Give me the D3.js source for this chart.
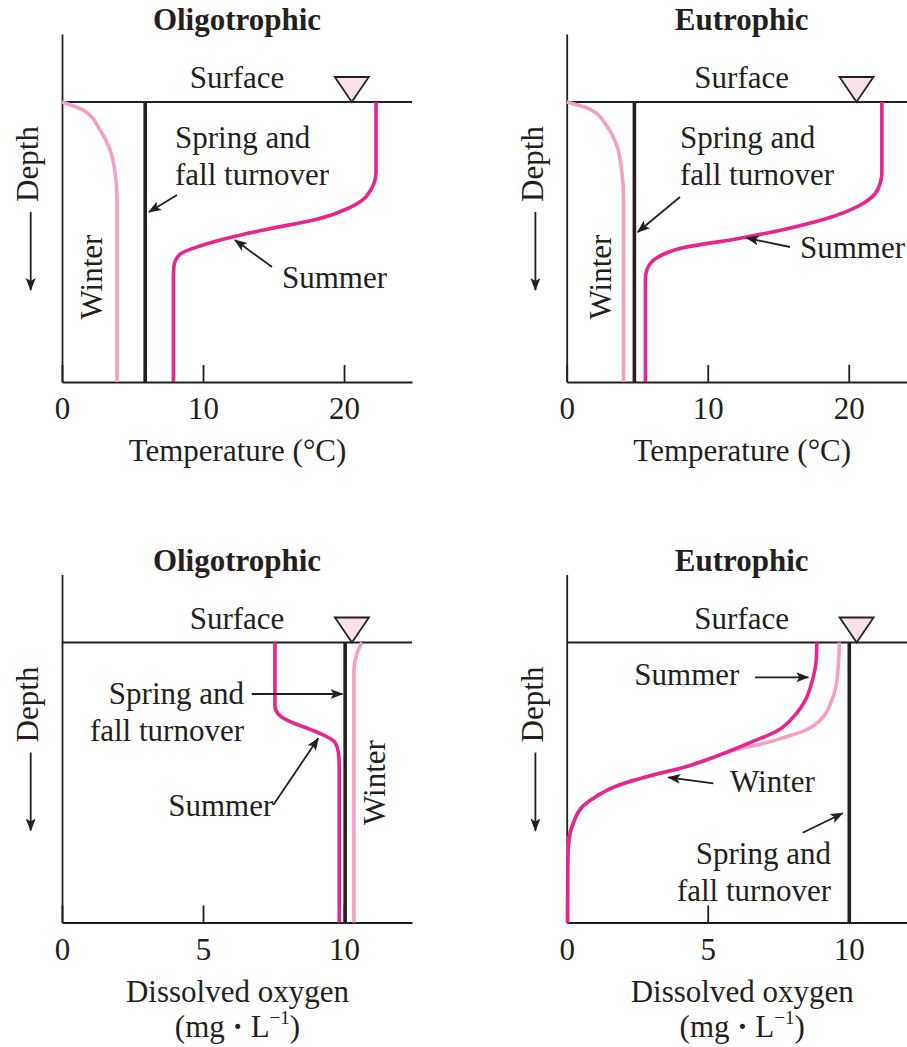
<!DOCTYPE html>
<html>
<head>
<meta charset="utf-8">
<script src="https://cdn.jsdelivr.net/npm/d3@7"></script>
<style>
  body { margin: 0; background: #fff; }
  text { font-family: "Liberation Serif", "Times New Roman", serif; fill: #231f20; }
</style>
</head>
<body>
<div class="chart"></div>
<script>
// profiles are [value, depth] pairs, depth 0 = surface, 100 = bottom
const oligoTempWinter = [[0,0],[1.5,2.9],[2.7,10],[3.4,17],[3.76,25],[3.9,35],[3.9,100]];
const oligoTempTurnover = [[5.9,0],[5.9,100]];
const oligoTempSummer = [[22.27,0],[22.27,25.2],[21.6,33.6],[20.4,37.7],[18.06,41.9],[14.5,45.5],
    [12.15,48.1],[9.79,51.4],[8.37,54.4],[7.94,58.6],[7.9,62.1],[7.9,100]];

const eutroTempWinter = [[0,0],[1.66,2.6],[2.85,8.6],[3.56,15.7],[3.91,25],[4.03,34.5],[4.03,100]];
const eutroTempTurnover = [[4.8,0],[4.8,100]];
const eutroTempSummer = [[22.35,0],[22.35,25.2],[22.06,31.2],[21.1,36],[19.0,40.7],[15.4,45.5],
    [11.9,49],[8.3,52],[6.4,55.6],[5.7,59.8],[5.58,63.3],[5.58,100]];

const oligoDoSummer = [[7.55,0],[7.55,22.6],[7.67,25.6],[8.09,28.3],[8.79,31],[9.33,33.3],
    [9.68,35.7],[9.8,39.3],[9.83,44],[9.83,100]];
const oligoDoTurnover = [[10.04,0],[10.04,100]];
const oligoDoWinter = [[10.63,0],[10.43,4.8],[10.35,10.7],[10.35,100]];

const eutroDoSummer = [[8.87,0],[8.84,7.1],[8.72,13.1],[8.48,20.2],[8.07,26.2],[7.47,31.5],
    [6.52,35.7],[5.34,40.5],[4.15,44.6],[2.97,47.6],[1.78,51.2],[1.07,54.8],[0.59,58.3],
    [0.24,64.3],[0.08,70.2],[0.04,77.4],[0.03,100]];
const eutroDoWinter = [[9.67,0],[9.63,8.3],[9.55,15.5],[9.37,21.4],[9.02,27.4],[8.54,31],
    [7.71,33.9],[6.88,36.3],[6.05,38.1],[5.34,40.5],[4.15,44.6],[2.97,47.6],[1.78,51.2],
    [1.07,54.8],[0.59,58.3],[0.24,64.3],[0.08,70.2],[0.04,77.4],[0.03,100]];
const eutroDoTurnover = [[10.02,0],[10.02,100]];

const tempTicks = [0, 10, 20];
const doTicks = [0, 5, 10];
const tempMax = 24.82, doMax = 12.41;
const tempSurfaceMark = 20.55, doSurfaceMark = 10.28;

const winterColor = "#f4a0c4", summerColor = "#e8258c", ink = "#231f20";
const fs = 31;

const svg = d3.select(".chart").append("svg")
    .attr("width", 907)
    .attr("height", 1047);

const defs = svg.append("defs");
defs.append("marker")
    .attr("id", "arrow")
    .attr("markerUnits", "userSpaceOnUse")
    .attr("markerWidth", 14).attr("markerHeight", 12)
    .attr("refX", 12).attr("refY", 5)
    .attr("orient", "auto")
    .append("path")
    .attr("d", "M0,0 L13,5 L0,10 L3,5 Z")
    .attr("fill", ink);

const panels = [
    { ox: 62, oy: 102, title: "Oligotrophic", max: tempMax, ticks: tempTicks, mark: tempSurfaceMark,
      winter: oligoTempWinter, turnover: oligoTempTurnover, summer: oligoTempSummer,
      xTitle: ["Temperature (°C)"],
      notes: [
        { lines: ["Spring and", "fall turnover"], x: 113, y: 46, anchor: "start", from: [115, 93], to: [87, 110] },
        { lines: ["Summer"], x: 220, y: 186, anchor: "start", from: [210, 165], to: [173, 138] },
        { lines: ["Winter"], x: 40, y: 175, rotate: true }
      ] },
    { ox: 566.7, oy: 102, title: "Eutrophic", max: tempMax, ticks: tempTicks, mark: tempSurfaceMark,
      winter: eutroTempWinter, turnover: eutroTempTurnover, summer: eutroTempSummer,
      xTitle: ["Temperature (°C)"],
      notes: [
        { lines: ["Spring and", "fall turnover"], x: 113.3, y: 46, anchor: "start", from: [113.3, 95], to: [71, 130] },
        { lines: ["Summer"], x: 233.3, y: 156, anchor: "start", from: [223.3, 145], to: [180, 136] },
        { lines: ["Winter"], x: 44, y: 175, rotate: true }
      ] },
    { ox: 62, oy: 642.5, title: "Oligotrophic", max: doMax, ticks: doTicks, mark: doSurfaceMark,
      winter: oligoDoWinter, turnover: oligoDoTurnover, summer: oligoDoSummer,
      xTitle: ["Dissolved oxygen", "unit"],
      notes: [
        { lines: ["Spring and", "fall turnover"], x: 182, y: 61, anchor: "end", from: [189.7, 51.5], to: [280.5, 51.5] },
        { lines: ["Summer"], x: 158.8, y: 173.5, anchor: "middle", from: [211.3, 162.5], to: [256.3, 95.8] },
        { lines: ["Winter"], x: 323, y: 140, rotate: true }
      ] },
    { ox: 566.7, oy: 642.5, title: "Eutrophic", max: doMax, ticks: doTicks, mark: doSurfaceMark,
      winter: eutroDoWinter, turnover: eutroDoTurnover, summer: eutroDoSummer,
      xTitle: ["Dissolved oxygen", "unit"],
      notes: [
        { lines: ["Summer"], x: 67.6, y: 42.5, anchor: "start", from: [188.3, 34.8], to: [241.6, 34.8] },
        { lines: ["Winter"], x: 163.3, y: 149.2, anchor: "start", from: [146.6, 140.8], to: [101.6, 134.8] },
        { lines: ["Spring and", "fall turnover"], x: 264.3, y: 221, anchor: "end", from: [236, 190.2], to: [276, 170.8] }
      ] }
];

const plotW = 350, plotH = 280, topExtra = 68;

panels.forEach(p => {
    const g = svg.append("g").attr("transform", `translate(${p.ox},${p.oy})`);

    const x = d3.scaleLinear().domain([0, p.max]).range([0, plotW]);
    const y = d3.scaleLinear().domain([0, 100]).range([0, plotH]);

    const line = d3.line()
        .x(d => x(d[0]))
        .y(d => y(d[1]))
        .curve(d3.curveMonotoneY);

    // x axis with inward ticks
    g.append("g")
        .attr("transform", `translate(0,${plotH})`)
        .call(d3.axisBottom(x).tickValues(p.ticks).tickSizeInner(-17).tickSizeOuter(0).tickPadding(15))
        .call(a => a.select(".domain").attr("stroke", ink).attr("stroke-width", 1.8))
        .call(a => a.selectAll(".tick line").attr("stroke", ink).attr("stroke-width", 1.8))
        .call(a => a.selectAll(".tick text")
            .attr("font-family", "Liberation Serif").attr("font-size", fs).attr("fill", ink));

    // depth axis, extends above the surface
    const yAxisScale = y.copy().domain([y.invert(-topExtra), 100]).range([-topExtra, plotH]);
    g.append("g")
        .call(d3.axisLeft(yAxisScale).ticks(0).tickSizeOuter(0))
        .call(a => a.select(".domain").attr("stroke", ink).attr("stroke-width", 1.8));

    // surface line
    g.append("line")
        .attr("x1", 0).attr("x2", x(p.max))
        .attr("y1", y(0)).attr("y2", y(0))
        .attr("stroke", ink).attr("stroke-width", 1.8);

    g.append("path").datum(p.winter)
        .attr("fill", "none").attr("stroke", winterColor).attr("stroke-width", 3.6).attr("d", line);
    g.append("path").datum(p.turnover)
        .attr("fill", "none").attr("stroke", ink).attr("stroke-width", 3.6).attr("d", line);
    g.append("path").datum(p.summer)
        .attr("fill", "none").attr("stroke", summerColor).attr("stroke-width", 3.6).attr("d", line);

    // surface triangle
    const mx = x(p.mark);
    g.append("path")
        .attr("d", `M${mx - 17},${y(0) - 25} L${mx + 17},${y(0) - 25} L${mx},${y(0)} Z`)
        .attr("fill", "#f9e1ea").attr("stroke", ink).attr("stroke-width", 1.8)
        .attr("stroke-linejoin", "miter");

    g.append("text")
        .attr("x", 175).attr("y", -72)
        .attr("text-anchor", "middle")
        .attr("font-size", fs).attr("font-weight", "bold")
        .text(p.title);

    g.append("text")
        .attr("x", 175).attr("y", -14)
        .attr("text-anchor", "middle")
        .attr("font-size", fs)
        .text("Surface");

    // depth label and arrow
    g.append("text")
        .attr("transform", "translate(-24,62) rotate(-90)")
        .attr("text-anchor", "middle")
        .attr("font-size", fs)
        .text("Depth");
    g.append("line")
        .attr("x1", -31.3).attr("x2", -31.3)
        .attr("y1", 110).attr("y2", 188)
        .attr("stroke", ink).attr("stroke-width", 1.8)
        .attr("marker-end", "url(#arrow)");

    // x axis title
    const xt = g.append("text")
        .attr("x", 175.5).attr("y", 359)
        .attr("text-anchor", "middle")
        .attr("font-size", fs)
        .text(p.xTitle[0]);
    if (p.xTitle.length > 1) {
        const u = g.append("text")
            .attr("x", 175.5).attr("y", 394)
            .attr("text-anchor", "middle")
            .attr("font-size", fs);
        u.append("tspan").text("(mg");
        u.append("tspan").attr("font-weight", "bold").text(" \u00b7 ");
        u.append("tspan").text("L");
        u.append("tspan").attr("dy", -13).attr("font-size", 19).text("\u22121");
        u.append("tspan").attr("dy", 13).text(")");
    }

    // annotations
    p.notes.forEach(n => {
        if (n.rotate) {
            g.append("text")
                .attr("transform", `translate(${n.x},${n.y}) rotate(-90)`)
                .attr("text-anchor", "middle")
                .attr("font-size", fs)
                .text(n.lines[0]);
            return;
        }
        const t = g.append("text")
            .attr("text-anchor", n.anchor)
            .attr("font-size", fs);
        n.lines.forEach((s, i) => {
            t.append("tspan").attr("x", n.x).attr("y", n.y + i * 37).text(s);
        });
        if (n.from) {
            g.append("line")
                .attr("x1", n.from[0]).attr("y1", n.from[1])
                .attr("x2", n.to[0]).attr("y2", n.to[1])
                .attr("stroke", ink).attr("stroke-width", 1.8)
                .attr("marker-end", "url(#arrow)");
        }
    });
});
</script>
</body>
</html>
